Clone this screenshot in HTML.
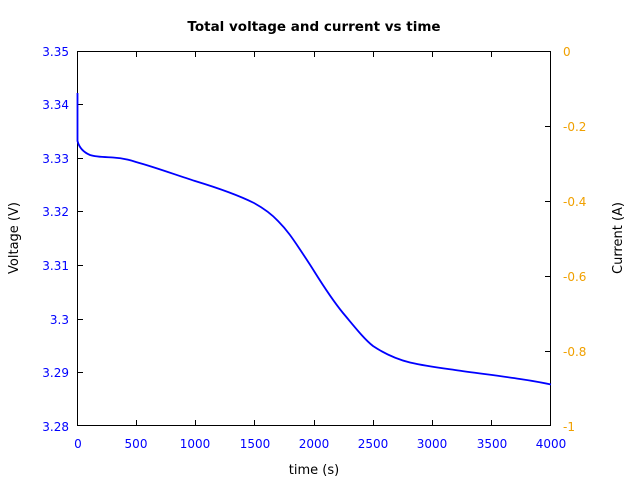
<!DOCTYPE html><html><head><style>body{margin:0;background:#fff}</style></head><body>
<svg width="640" height="480" xmlns="http://www.w3.org/2000/svg" font-family="DejaVu Sans, sans-serif" font-size="12">
<text x="314" y="31" text-anchor="middle" font-weight="bold" font-size="13.5">Total voltage and current vs time</text>
<g stroke="#000" stroke-width="1" fill="none">
<rect x="77.5" y="51.5" width="473" height="374"/>
<path d="M136.5 426v-6M195.5 426v-6M254.5 426v-6M314.5 426v-6M373.5 426v-6M432.5 426v-6M491.5 426v-6
M136.5 51v6M195.5 51v6M254.5 51v6M314.5 51v6M373.5 51v6M432.5 51v6M491.5 51v6
M77 104.5h6M77 158.5h6M77 211.5h6M77 265.5h6M77 319.5h6M77 372.5h6
M551 126.5h-6M551 201.5h-6M551 276.5h-6M551 351.5h-6"/>
</g>
<g fill="#0000ff" text-anchor="end">
<text x="69" y="56">3.35</text><text x="69" y="109">3.34</text><text x="69" y="163">3.33</text><text x="69" y="216">3.32</text><text x="69" y="270">3.31</text><text x="69" y="324">3.3</text><text x="69" y="377">3.29</text><text x="69" y="431">3.28</text>
</g>
<g fill="#f0a000" text-anchor="start">
<text x="563" y="56">0</text><text x="563" y="131">-0.2</text><text x="563" y="206">-0.4</text><text x="563" y="281">-0.6</text><text x="563" y="356">-0.8</text><text x="563" y="431">-1</text>
</g>
<g fill="#0000ff" text-anchor="middle">
<text x="78" y="448">0</text><text x="136" y="448">500</text><text x="195" y="448">1000</text><text x="255" y="448">1500</text><text x="314" y="448">2000</text><text x="373" y="448">2500</text><text x="432" y="448">3000</text><text x="492" y="448">3500</text><text x="551" y="448">4000</text>
</g>
<text x="314" y="474" text-anchor="middle" font-size="13">time (s)</text>
<text transform="translate(18,238) rotate(-90)" text-anchor="middle" font-size="13">Voltage (V)</text>
<text transform="translate(622,238) rotate(-90)" text-anchor="middle" font-size="13">Current (A)</text>
<path fill="none" stroke="#0000ff" stroke-width="1.8" d="M77.5 93 L77.5 141 C79 147 83 152 90 155 C96 157 104 157 113 157.5 C122 158 130 160 136 162 C156 167.5 176 175 195 181 C218 188 238 195 254 203 C264 208.5 271 213.5 278 221 C287 230 293 239 299 248 C305 257 310 264.5 314 271 C324 287 334 302 343 313 C354 326 364 339 373 346 C385 354 396 359 410 362.5 C425 366 437 367.5 455 370 C475 373 497 375.5 520 379 C534 381 544 383 551 384.5"/>
</svg>
</body></html>
